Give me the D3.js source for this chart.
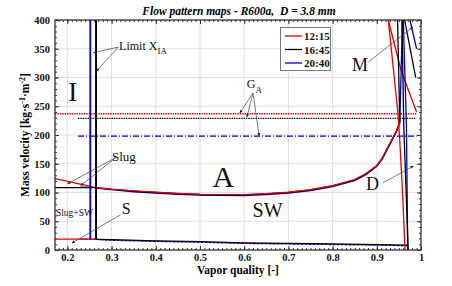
<!DOCTYPE html>
<html>
<head>
<meta charset="utf-8">
<script src="https://cdn.jsdelivr.net/npm/d3@7"></script>
<style>
  html, body { margin: 0; padding: 0; background: #fff; }
  svg { display: block; font-family: "Liberation Serif", "Times New Roman", serif; }
</style>
</head>
<body>
<div id="chart"></div>
<script>
// ---- data ----
const runs = ['12:15', '16:45', '20:40'];
const runColors = ['#e00000', '#000000', '#0000c8'];

const ticksX = [0.2, 0.3, 0.4, 0.5, 0.6, 0.7, 0.8, 0.9, 1];
const ticksY = [0, 50, 100, 150, 200, 250, 300, 350, 400];

// annular boundary (A / SW + slug)
const qA = [0.265, 0.3, 0.35, 0.4, 0.45, 0.5, 0.55, 0.6, 0.65, 0.7, 0.75, 0.8, 0.85, 0.875, 0.9, 0.912, 0.93, 0.945, 0.952];
const gA1215 = [108.5, 106, 103, 100.5, 98.5, 97, 96.5, 96.5, 98, 100.5, 105, 112, 122.5, 132.5, 147, 159.5, 186, 208, 222];
const gA1645 = [108.5, 105.5, 102.5, 100, 98, 96.5, 96, 96, 97.5, 100, 104.5, 111.5, 122, 132, 146.5, 159, 185.5, 207.5, 222];
const gA2040 = [108, 105, 101.5, 99, 97, 95.5, 95, 95, 96.5, 99, 103.5, 110.5, 121, 131, 145.5, 158, 184.5, 207, 221];

// slug branch left of X_IA
const qSlug1215 = [0.172, 0.265];
const gSlug1215 = [124, 108.5];
const qSlug1645 = [0.172, 0.265];
const gSlug1645 = [108.5, 108.5];
const qSlug2040 = [0.23, 0.252];
const gSlug2040 = [109.5, 109];

// stratified boundary S
const qS1215 = [0.172, 0.265];
const gS1215 = [19, 19];
const qS1645 = [0.265, 0.3, 0.4, 0.5, 0.6, 0.7, 0.8, 0.9, 0.971];
const gS1645 = [18.5, 18, 16, 14.5, 12.5, 11.5, 10.5, 9.5, 8.5];
const qS2040 = [0.23, 0.252, 0.3, 0.4, 0.5, 0.6, 0.7, 0.8, 0.9, 0.97];
const gS2040 = [19, 19, 17, 15, 13.5, 11.5, 10.5, 9.5, 8.5, 7.5];

// limit X_IA (vertical): 12:15 lies under 16:45
const xIA = [0.265, 0.265, 0.252];
const xIAbottom = [19, 18.5, 19];

// G_A (horizontal)
const gGA = [237, 229, 198];
const qGAstart = [0.172, 0.224, 0.224];
const qGAend = [0.99, 0.99, 0.99];

// dryout D lines
const qD1215 = [0.926, 0.948, 0.952, 0.958, 0.964];
const gD1215 = [400, 237, 190, 104, 0];
const qD1645 = [0.957, 0.961, 0.971];
const gD1645 = [400, 216, 0];
const qD2040 = [0.960, 0.967, 0.970];
const gD2040 = [400, 216, 0];

// rise of the A curve to the top
const qUp1645 = [0.952, 0.947];
const gUp1645 = [222, 400];
const qUp2040 = [0.952, 0.958];
const gUp2040 = [221, 400];

// mist M lines
const qM1215 = [0.926, 0.955, 0.99];
const gM1215 = [400, 312, 240];
const qM1645 = [0.963, 0.988];
const gM1645 = [400, 300];
const qM2040 = [0.975, 0.99];
const gM2040 = [400, 350];

// ---- chart ----
const W = 452, H = 286;
const x = d3.scaleLinear().domain([0.172, 1]).range([55, 421]);
const y = d3.scaleLinear().domain([0, 400]).range([250, 20]);

const svg = d3.select('#chart').append('svg')
  .attr('width', W).attr('height', H)
  .attr('viewBox', [0, 0, W, H]);

svg.append('defs').append('marker')
  .attr('id', 'arr')
  .attr('viewBox', '0 0 10 10')
  .attr('refX', 9).attr('refY', 5)
  .attr('markerWidth', 5).attr('markerHeight', 5)
  .attr('orient', 'auto')
  .append('path').attr('d', 'M0,1L10,5L0,9z').attr('fill', '#222');

// grid
const grid = svg.append('g').attr('stroke', '#d8d8d8').attr('stroke-width', 0.8);
grid.selectAll('.gx').data(ticksX.filter(d => d < 1)).enter().append('line')
  .attr('x1', d => x(d)).attr('x2', d => x(d)).attr('y1', y(0)).attr('y2', y(400));
grid.selectAll('.gy').data(ticksY.filter(d => d > 0 && d < 400)).enter().append('line')
  .attr('x1', x(0.172)).attr('x2', x(1)).attr('y1', d => y(d)).attr('y2', d => y(d));

// axes with inward ticks
const minorX = d3.range(0.18, 1.0001, 0.01);
const minorY = d3.range(0, 401, 10);

function styleAxis(g) {
  g.attr('font-family', null);
  g.select('.domain').remove();
  g.selectAll('line').attr('stroke', '#333');
  g.selectAll('text')
    .style('font-family', '"Liberation Serif", "Times New Roman", serif')
    .attr('font-weight', 'bold').attr('font-size', 10.5).attr('fill', '#111');
}

svg.append('g').attr('transform', `translate(0,${y(0)})`)
  .call(d3.axisBottom(x).tickValues(minorX).tickSize(-2).tickFormat(''))
  .call(styleAxis);
svg.append('g').attr('transform', `translate(0,${y(0)})`)
  .call(d3.axisBottom(x).tickValues(ticksX).tickSize(-4).tickPadding(4).tickFormat(d => d === 1 ? '1' : d3.format('.1f')(d)))
  .call(styleAxis);
svg.append('g').attr('transform', `translate(0,${y(400)})`)
  .call(d3.axisTop(x).tickValues(minorX).tickSize(-2).tickFormat(''))
  .call(styleAxis);
svg.append('g').attr('transform', `translate(0,${y(400)})`)
  .call(d3.axisTop(x).tickValues(ticksX).tickSize(-4).tickFormat(''))
  .call(styleAxis);
svg.append('g').attr('transform', `translate(${x(0.172)},0)`)
  .call(d3.axisLeft(y).tickValues(minorY).tickSize(-2).tickFormat(''))
  .call(styleAxis);
svg.append('g').attr('transform', `translate(${x(0.172)},0)`)
  .call(d3.axisLeft(y).tickValues(ticksY).tickSize(-4).tickPadding(5))
  .call(styleAxis);
svg.append('g').attr('transform', `translate(${x(1)},0)`)
  .call(d3.axisRight(y).tickValues(minorY).tickSize(-2).tickFormat(''))
  .call(styleAxis);
svg.append('g').attr('transform', `translate(${x(1)},0)`)
  .call(d3.axisRight(y).tickValues(ticksY).tickSize(-4).tickFormat(''))
  .call(styleAxis);

// data lines
const plot = svg.append('g');
const line = d3.line().x(d => x(d[0])).y(d => y(d[1]));
const zip = (a, b) => a.map((v, i) => [v, b[i]]);

function draw(qs, gs, color, w = 1.3, dash = null) {
  plot.append('path')
    .attr('d', line(zip(qs, gs)))
    .attr('fill', 'none')
    .attr('stroke', color)
    .attr('stroke-width', w)
    .attr('stroke-dasharray', dash);
}

// limit X_IA first so the 16:45 line hides the 12:15 one
xIA.forEach((q, i) => draw([q, q], [xIAbottom[i], 400], runColors[i], 1.5));

// G_A horizontal lines
const gaDash = ['1.4,1', '1.4,1', '6,2,1,2'];
gGA.forEach((g, i) => draw([qGAstart[i], qGAend[i]], [g, g], runColors[i], 1.4, gaDash[i]));

// blue first, then red, then black on top
draw(qS2040, gS2040, runColors[2], 1.3, '3,1');
draw(qS1215, gS1215, runColors[0]);
draw(qS1645, gS1645, runColors[1]);

draw(qA, gA2040, runColors[2], 1.5);
draw(qA, gA1645, runColors[1], 1.3);
draw(qA, gA1215, runColors[0], 1.2);
draw(qSlug2040, gSlug2040, runColors[2]);
draw(qSlug1215, gSlug1215, runColors[0]);
draw(qSlug1645, gSlug1645, runColors[1]);

// redraw the visible X_IA lines above the curves
draw([xIA[1], xIA[1]], [xIAbottom[1], 400], runColors[1], 1.5);
draw([xIA[2], xIA[2]], [xIAbottom[2], 400], runColors[2], 1.5);

draw(qD1215, gD1215, runColors[0]);
draw(qM1215, gM1215, runColors[0]);
draw(qUp2040, gUp2040, runColors[2]);
draw(qD2040, gD2040, runColors[2]);
draw(qM2040, gM2040, runColors[2]);
draw(qUp1645, gUp1645, runColors[1]);
draw(qD1645, gD1645, runColors[1]);
draw(qM1645, gM1645, runColors[1]);

// frame
svg.append('rect')
  .attr('x', x(0.172)).attr('y', y(400))
  .attr('width', x(1) - x(0.172)).attr('height', y(0) - y(400))
  .attr('fill', 'none').attr('stroke', '#333').attr('stroke-width', 1.3);

// annotations
const ann = svg.append('g').attr('fill', '#111');
function label(q, g, txt, size, anchor = 'start') {
  return ann.append('text').attr('x', x(q)).attr('y', y(g))
    .attr('font-size', size).attr('text-anchor', anchor).text(txt);
}
function arrow(q1, g1, q2, g2) {
  ann.append('line')
    .attr('x1', x(q1)).attr('y1', y(g1)).attr('x2', x(q2)).attr('y2', y(g2))
    .attr('stroke', '#444').attr('stroke-width', 0.7)
    .attr('marker-end', 'url(#arr)');
}

const lim = label(0.317, 348, 'Limit X', 12);
lim.append('tspan').attr('dy', 4).attr('font-size', 9).text('IA');
arrow(0.315, 353, 0.259, 343);
arrow(0.315, 353, 0.266, 311);

label(0.212, 260, 'I', 27, 'middle');

const ga = label(0.606, 281, 'G', 12);
ga.append('tspan').attr('dy', 5).attr('font-size', 9).text('A');
arrow(0.620, 273, 0.590, 238);
arrow(0.620, 273, 0.606, 231);
arrow(0.620, 273, 0.634, 198);

label(0.862, 312, 'M', 18, 'middle');
arrow(0.881, 327, 0.982, 388);

label(0.553, 109, 'A', 30, 'middle');
label(0.653, 58, 'SW', 20, 'middle');

label(0.890, 104, 'D', 18, 'middle');
arrow(0.914, 117, 0.983, 146);

label(0.328, 154, 'Slug', 13, 'middle');
arrow(0.31, 161, 0.2, 115);
arrow(0.31, 161, 0.23, 112);

label(0.174, 60, 'Slug+SW', 9.5);

label(0.333, 63, 'S', 16, 'middle');
arrow(0.32, 61, 0.21, 12);

// legend
const lg = svg.append('g');
lg.append('rect').attr('x', 280.5).attr('y', 27.5).attr('width', 50).attr('height', 43)
  .attr('fill', '#fff').attr('stroke', '#777').attr('stroke-width', 1);
runs.forEach((r, i) => {
  const yy = 36 + i * 13.5;
  lg.append('line').attr('x1', 285).attr('x2', 302).attr('y1', yy).attr('y2', yy)
    .attr('stroke', runColors[i]).attr('stroke-width', 1.3);
  lg.append('text').attr('x', 304).attr('y', yy + 4)
    .attr('font-size', 11).attr('font-weight', 'bold').attr('fill', '#111').text(r);
});

// titles
svg.append('text').attr('x', 239).attr('y', 15)
  .attr('text-anchor', 'middle').attr('font-size', 11.5)
  .attr('font-weight', 'bold').attr('font-style', 'italic')
  .style('white-space', 'pre')
  .text('Flow pattern maps - R600a,  D = 3.8 mm');

svg.append('text').attr('x', 238).attr('y', 274)
  .attr('text-anchor', 'middle').attr('font-size', 11.5).attr('font-weight', 'bold')
  .text('Vapor quality [-]');

const yl = svg.append('text')
  .attr('transform', `translate(29,${(y(0) + y(400)) / 2}) rotate(-90)`)
  .attr('text-anchor', 'middle').attr('font-size', 11.5).attr('font-weight', 'bold');
yl.append('tspan').text('Mass velocity [kg·s');
yl.append('tspan').attr('dy', -4).attr('font-size', 8).text('-1');
yl.append('tspan').attr('dy', 4).text('·m');
yl.append('tspan').attr('dy', -4).attr('font-size', 8).text('-2');
yl.append('tspan').attr('dy', 4).text(']');
</script>
</body>
</html>
